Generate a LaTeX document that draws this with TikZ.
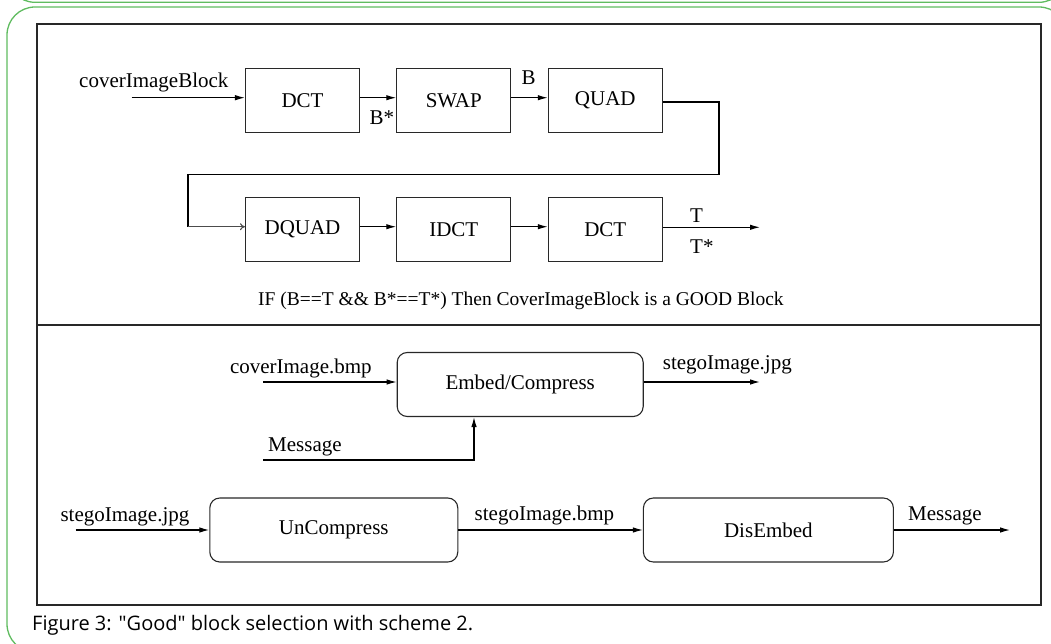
\documentclass[tikz,border=0pt]{standalone}
\usepackage{fontspec}
\setmainfont{Liberation Serif}
\newfontfamily\capfont{Open Sans}
\usetikzlibrary{arrows.meta,calc}
\definecolor{framegreen}{RGB}{96,188,96}
\definecolor{boxline}{RGB}{40,40,40}
\tikzset{
  txt/.style={font=\fontsize{21}{25}\selectfont},
  blk/.style={txt, draw=boxline, line width=1.1pt, minimum width=114pt, minimum height=64pt,
    inner sep=0pt},
  rblk/.style={txt, draw=boxline, line width=1.1pt, rounded corners=10pt, minimum height=64pt,
    inner sep=0pt},
  lbl/.style={txt, inner sep=0pt, anchor=base west},
  flow/.style={draw=black, line width=1.1pt, -{Latex[length=10pt,width=5.5pt]}},
  wire/.style={draw=black, line width=1.1pt},
  openflow/.style={draw=black!70, line width=1.1pt, -{To[length=5pt,width=7pt]}},
}
\begin{document}
\begin{tikzpicture}[x=1pt, y=-1pt]
  \useasboundingbox (0,0) rectangle (1051,644);
  % green page frames
  \begin{scope}
    \clip (0,0) rectangle (1051,644);
    \draw[framegreen, line width=1.3pt, rounded corners=28pt] (7,-120) rectangle (1067,2.3);
    \draw[framegreen, line width=1.3pt, rounded corners=28pt] (7,7) rectangle (1067,652);
  \end{scope}
  % figure panel and divider
  \draw[boxline, line width=1.6pt] (37,24) rectangle (1041,605);
  \draw[boxline, line width=1.4pt] (37,325) -- (1041,325);

  % upper panel: block test chain
  \node[blk] (dcta)  at (302.5,100.3) {DCT};
  \node[blk] (swap)  at (453.8,100.3) {SWAP};
  \node[blk] (quad)  at (605.3,100.3) {QUAD};
  \node[blk] (dquad) at (302.5,229.3) {DQUAD};
  \node[blk] (idct)  at (453.8,229.3) {IDCT};
  \node[blk] (dctb)  at (605.3,229.3) {DCT};

  \coordinate (cin) at (131.7,97.7);
  \node[lbl] (cinlbl) at (79,88) {coverImageBlock};
  \draw[flow] (cin) -- (dcta.west |- cin);
  \draw[flow] ([yshift=2.6pt]dcta.east) -- ([yshift=2.6pt]swap.west);
  \draw[flow] ([yshift=2.6pt]swap.east) -- ([yshift=2.6pt]quad.west);
  \node[lbl] (bstar) at (369.5,125) {B*};
  \node[lbl] (blbl) at (521.5,85) {B};

  \coordinate (tr) at (719,102);
  \coordinate (br) at (719,174.3);
  \coordinate (bl) at (188,174.3);
  \coordinate (tl) at (188,226.7);
  \draw[wire] (quad.east |- tr) -- (tr) -- (br) -- (bl) -- (tl);
  \draw[openflow] (tl) -- (dquad.west |- tl);
  \draw[flow] ([yshift=2.6pt]dquad.east) -- ([yshift=2.6pt]idct.west);
  \draw[flow] ([yshift=2.6pt]idct.east) -- ([yshift=2.6pt]dctb.west);
  \coordinate (tout) at (760,227.3);
  \draw[flow] (dctb.east |- tout) -- (tout);
  \node[lbl] (tlbl) at (690,223) {T};
  \node[lbl] (tstar) at (690,253) {T*};
  \node[lbl, font=\fontsize{19.5}{24}\selectfont] (rule) at (258,305)
    {IF (B==T \&\& B*==T*) Then CoverImageBlock is a GOOD Block};

  % lower panel: embedding and extraction
  \node[rblk, minimum width=246pt] (embed) at (520.2,384.5) {Embed/Compress};
  \coordinate (ein) at (263.4,382);
  \node[lbl] (einlbl) at (229.8,373) {coverImage.bmp};
  \draw[flow] (ein) -- (embed.west |- ein);
  \coordinate (eout) at (760,382);
  \node[lbl] (eoutlbl) at (662.7,369) {stegoImage.jpg};
  \draw[flow] (embed.east |- eout) -- (eout);
  \coordinate (msg) at (263.4,460);
  \coordinate (msgc) at (474,460);
  \node[lbl] (msglbl) at (268,451.7) {Message};
  \draw[flow] (msg) -- (msgc) -- (embed.south -| msgc);

  \node[rblk, minimum width=248pt] (uncomp) at (333.8,530) {UnCompress};
  \node[rblk, minimum width=250pt] (disemb) at (768.4,530) {DisEmbed};
  \coordinate (uin) at (75.7,530);
  \node[lbl] (uinlbl) at (60.3,521.7) {stegoImage.jpg};
  \draw[flow] (uin) -- (uncomp.west);
  \draw[flow] (uncomp.east) -- (disemb.west);
  \node[lbl] (midlbl) at (474.5,520) {stegoImage.bmp};
  \coordinate (dout) at (1010,530);
  \draw[flow] (disemb.east) -- (dout);
  \node[lbl] (doutlbl) at (908,520) {Message};

  % caption
  \node[inner sep=0pt, anchor=base west, font=\capfont\fontsize{20}{24}\selectfont] (cap)
    at (32,630) {Figure 3: "Good" block selection with scheme 2.};
\end{tikzpicture}
\end{document}
